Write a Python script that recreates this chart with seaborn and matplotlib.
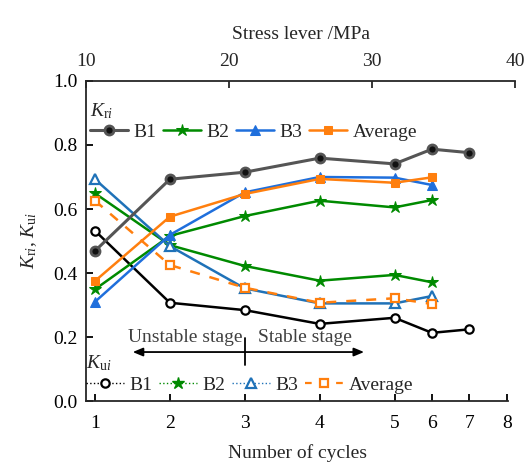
import numpy as np
import pandas as pd
import matplotlib
matplotlib.use("Agg")
import matplotlib.pyplot as plt
from matplotlib.lines import Line2D
import seaborn as sns

# ---------------- data ----------------
cycles7 = [1, 2, 3, 4, 5, 6, 7]
cycles6 = [1, 2, 3, 4, 5, 6]

kri_b1 = [0.469, 0.693, 0.715, 0.759, 0.741, 0.787, 0.776]
kri_b2 = [0.349, 0.516, 0.578, 0.626, 0.605, 0.628]
kri_b3 = [0.310, 0.519, 0.652, 0.700, 0.698, 0.675]
kri_avg = [0.375, 0.576, 0.647, 0.694, 0.682, 0.699]

kui_b1 = [0.532, 0.307, 0.284, 0.241, 0.260, 0.213, 0.224]
kui_b2 = [0.649, 0.487, 0.422, 0.376, 0.394, 0.371]
kui_b3 = [0.693, 0.484, 0.352, 0.305, 0.305, 0.328]
kui_avg = [0.626, 0.425, 0.354, 0.307, 0.321, 0.303]

cycle_ticks = [1, 2, 3, 4, 5, 6, 7, 8]
stress_ticks = [10, 20, 30, 40]
y_ticks = [0.0, 0.2, 0.4, 0.6, 0.8, 1.0]
series_names = ["B1", "B2", "B3", "Average"]

# ---------------- style ----------------
sns.set_style("ticks")
plt.rcParams["font.family"] = ["Liberation Serif", "DejaVu Serif"]
plt.rcParams["mathtext.fontset"] = "custom"
plt.rcParams["mathtext.rm"] = "Liberation Serif"
plt.rcParams["mathtext.it"] = "Liberation Serif:italic"
plt.rcParams["axes.linewidth"] = 1.3

FS = 14
W, H = 530, 465
fig = plt.figure(figsize=(W / 100, H / 100), dpi=100)

L, R_bot, R_top, B, T = 86, 508, 515, 401, 81
ax = fig.add_axes([L / W, (H - B) / H, (R_bot - L) / W, (B - T) / H])
axt = fig.add_axes([L / W, (H - B) / H, (R_top - L) / W, (B - T) / H])
axt.patch.set_alpha(0)


def fwd(c):
    c = np.asarray(c, dtype=float)
    return np.where(c <= 5, c, 5 + (c - 5) / 2)


def inv(p):
    p = np.asarray(p, dtype=float)
    return np.where(p <= 5, p, 5 + (p - 5) * 2)


ax.set_xscale("function", functions=(fwd, inv))

c_gray = "#555555"
c_green = "#008a00"
c_blue = "#1f6fdc"
c_blue2 = "#1f72b8"
c_orange = "#ff7f0e"
lw = 1.8
ms = 6

# Kui series
sns.lineplot(x=cycles7, y=kui_b1, ax=ax, color="black", lw=lw, marker="o", ms=ms,
             markerfacecolor="white", markeredgecolor="black", markeredgewidth=1.6, legend=False)
sns.lineplot(x=cycles6, y=kui_b2, ax=ax, color=c_green, lw=lw, marker="*", ms=ms + 3,
             markeredgecolor=c_green, legend=False)
sns.lineplot(x=cycles6, y=kui_b3, ax=ax, color=c_blue2, lw=lw, marker="^", ms=ms + 1,
             markerfacecolor="white", markeredgecolor=c_blue2, markeredgewidth=1.6, legend=False)
sns.lineplot(x=cycles6, y=kui_avg, ax=ax, color=c_orange, lw=lw, ls=(0, (4, 4)), marker="s", ms=ms,
             markerfacecolor="white", markeredgecolor=c_orange, markeredgewidth=1.6, legend=False)

# Kri series
sns.lineplot(x=cycles7, y=kri_b1, ax=ax, color=c_gray, lw=lw + 0.4, marker="o", ms=ms + 0.5,
             markerfacecolor="#111111", markeredgecolor=c_gray, markeredgewidth=2.0, legend=False)
h_b1 = ax.lines[-1]
sns.lineplot(x=cycles6, y=kri_b2, ax=ax, color=c_green, lw=lw, marker="*", ms=ms + 3,
             markeredgecolor=c_green, legend=False)
h_b2 = ax.lines[-1]
sns.lineplot(x=cycles6, y=kri_b3, ax=ax, color=c_blue, lw=lw, marker="^", ms=ms + 1,
             markeredgecolor=c_blue, legend=False)
h_b3 = ax.lines[-1]
sns.lineplot(x=cycles6, y=kri_avg, ax=ax, color=c_orange, lw=lw, marker="s", ms=ms,
             markeredgecolor=c_orange, legend=False)
h_avg = ax.lines[-1]

# ---------------- axes ----------------
ax.set_xlim(0.88, 8.03)
ax.set_ylim(0, 1.0)
ax.set_xticks(cycle_ticks)
ax.set_xticklabels([str(t) for t in cycle_ticks])
ax.xaxis.set_minor_locator(matplotlib.ticker.NullLocator())
ax.set_yticks(y_ticks)
ax.set_yticklabels([f"{t:.1f}" for t in y_ticks])
for s in ["top", "right"]:
    ax.spines[s].set_visible(False)
ax.tick_params(axis="both", direction="in", length=5, width=1.3, labelsize=FS, colors="black")
ax.tick_params(axis="x", pad=10)
ax.tick_params(axis="y", pad=6)
ax.set_xlabel("Number of cycles", fontsize=FS, labelpad=9)
ax.set_ylabel(r"$K_{\mathrm{r}i}$, $K_{\mathrm{u}i}$", fontsize=FS, labelpad=10)

axt.set_xlim(10, 40)
axt.set_ylim(0, 1)
axt.set_xticks(stress_ticks)
axt.set_yticks([])
for s in ["bottom", "left", "right"]:
    axt.spines[s].set_visible(False)
axt.xaxis.tick_top()
axt.xaxis.set_label_position("top")
axt.tick_params(axis="x", direction="in", length=5, width=1.3, labelsize=FS, pad=8)
axt.set_xlabel("Stress lever /MPa", fontsize=FS, labelpad=10)

# ---------------- stage annotation ----------------
ax.annotate("", xy=(4.63, 0.153), xytext=(1.467, 0.153),
            arrowprops=dict(arrowstyle="<|-|>,head_length=0.6,head_width=0.25", color="black", lw=1.3))
ax.plot([3, 3], [0.1125, 0.197], color="black", lw=1.3)
ax.text(2.21, 0.197, "Unstable stage", ha="center", va="center", fontsize=FS, color="#404040")
ax.text(3.8, 0.197, "Stable stage", ha="center", va="center", fontsize=FS, color="#404040")

# ---------------- legends ----------------
leg_kw = dict(ncol=4, frameon=False, fontsize=FS, title_fontsize=FS, loc="upper left",
              alignment="left", handlelength=1.95, handletextpad=0.28, columnspacing=0.35,
              borderpad=0.2, labelspacing=0.2, borderaxespad=0.0)
leg1 = ax.legend([h_b1, h_b2, h_b3, h_avg], series_names,
                 title=r"$K_{\mathrm{r}i}$", bbox_to_anchor=(0.0, 0.95), **leg_kw)
leg1._legend_box.sep = 2
ax.add_artist(leg1)

kui_handles = [
    Line2D([], [], color="black", lw=1.0, ls=":", marker="o", ms=ms,
           markerfacecolor="white", markeredgecolor="black", markeredgewidth=1.6),
    Line2D([], [], color=c_green, lw=1.0, ls=":", marker="*", ms=ms + 3, markeredgecolor=c_green),
    Line2D([], [], color=c_blue2, lw=1.0, ls=":", marker="^", ms=ms + 1,
           markerfacecolor="white", markeredgecolor=c_blue2, markeredgewidth=1.6),
    Line2D([], [], color=c_orange, lw=1.6, ls=(0, (3, 4)), marker="s", ms=ms,
           markerfacecolor="white", markeredgecolor=c_orange, markeredgewidth=1.6),
]
leg2 = ax.legend(kui_handles, series_names,
                 title=r"$K_{\mathrm{u}i}$", bbox_to_anchor=(-0.01, 0.16), **leg_kw)
leg2._legend_box.sep = 2

fig.savefig("out.png", dpi=100)
